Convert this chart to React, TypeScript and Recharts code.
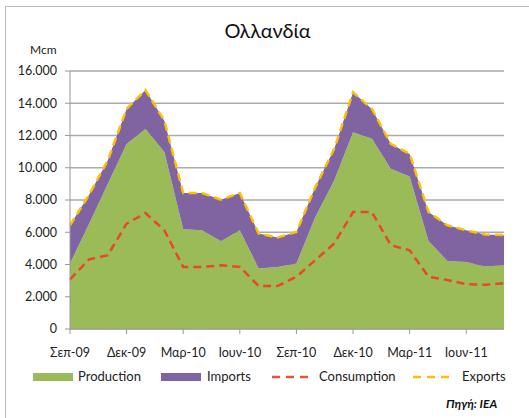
import { ComposedChart, Area, Line, XAxis, YAxis, CartesianGrid } from 'recharts';

const months = [
  'Σεπ-09', 'Οκτ-09', 'Νοε-09', 'Δεκ-09', 'Ιαν-10', 'Φεβ-10', 'Μαρ-10', 'Απρ-10', 'Μαϊ-10', 'Ιουν-10', 'Ιουλ-10', 'Αυγ-10',
  'Σεπ-10', 'Οκτ-10', 'Νοε-10', 'Δεκ-10', 'Ιαν-11', 'Φεβ-11', 'Μαρ-11', 'Απρ-11', 'Μαϊ-11', 'Ιουν-11', 'Ιουλ-11', 'Αυγ-11',
];
const production = [4060, 6500, 9000, 11480, 12410, 10970, 6180, 6120, 5440, 6120, 3750, 3850, 4060, 6950, 9210, 12200, 11800, 9940, 9460, 5460, 4220, 4160, 3880, 3950];
const imports = [2370, 1800, 1450, 2170, 2410, 1950, 2250, 2310, 2580, 2310, 2170, 1820, 1960, 1850, 1960, 2480, 1850, 1540, 1400, 1800, 2210, 1960, 1980, 1870];
const consumption = [3070, 4310, 4580, 6530, 7190, 6120, 3850, 3850, 3950, 3850, 2660, 2660, 3240, 4270, 5300, 7250, 7250, 5200, 4880, 3240, 3040, 2780, 2740, 2840];
const exports = [6430, 8300, 10450, 13650, 14820, 12920, 8430, 8430, 8020, 8430, 5920, 5670, 6020, 8800, 11170, 14680, 13650, 11480, 10860, 7260, 6430, 6120, 5860, 5820];
const yTicks = [0, 2000, 4000, 6000, 8000, 10000, 12000, 14000, 16000];

const data = months.map((m, i) => ({
  month: m,
  Production: production[i],
  Imports: imports[i],
  Consumption: consumption[i],
  Exports: exports[i],
}));

const FONT = 'Lato, "Liberation Sans", sans-serif';

const legendItems = [
  { name: 'Production', color: '#9BBB59', type: 'box', x: 33, tx: 78 },
  { name: 'Imports', color: '#8064A2', type: 'box', x: 161, tx: 207 },
  { name: 'Consumption', color: '#F0503A', type: 'dash', x: 272, tx: 319 },
  { name: 'Exports', color: '#FFC000', type: 'dash', x: 413, tx: 462 },
];

function ChartLegend() {
  return (
    <div style={{ position: 'absolute', left: 0, top: 368, width: 529, height: 20, fontFamily: FONT, fontSize: 13, color: '#222' }}>
      {legendItems.map((it) => (
        <div key={it.name}>
          {it.type === 'box' ? (
            <div style={{ position: 'absolute', left: it.x, top: 5, width: 40, height: 8, background: it.color }} />
          ) : (
            <svg style={{ position: 'absolute', left: it.x, top: 4 }} width={40} height={10}>
              <line x1={0} y1={5} x2={40} y2={5} stroke={it.color} strokeWidth={2.5} strokeDasharray="8 6" />
            </svg>
          )}
          <span style={{ position: 'absolute', left: it.tx, top: 0, whiteSpace: 'nowrap' }}>{it.name}</span>
        </div>
      ))}
    </div>
  );
}

export default function App() {
  return (
    <div style={{ position: 'absolute', left: 0, top: 0, width: 529, height: 418, background: '#fff', overflow: 'hidden' }}>
      <div style={{ position: 'absolute', left: 5, top: 6, width: 540, height: 430, borderLeft: '1px solid #BBBBBB', borderTop: '1px solid #BBBBBB' }} />
      <div style={{ position: 'absolute', left: 0, top: 18, width: 535, textAlign: 'center', fontFamily: FONT, fontSize: 20, color: '#111' }}>
        Ολλανδία
      </div>
      <div style={{ position: 'absolute', left: 30, top: 42, fontFamily: FONT, fontSize: 12, color: '#222' }}>Mcm</div>
      <div style={{ position: 'absolute', left: 446, top: 396, fontFamily: FONT, fontSize: 12, fontWeight: 'bold', fontStyle: 'italic', color: '#111' }}>
        Πηγή: IEA
      </div>
      <div style={{ position: 'absolute', left: 0, top: 0 }}>
        <ComposedChart width={529} height={418} data={data} margin={{ top: 71, right: 25, left: 10, bottom: 59 }}>
          <CartesianGrid vertical={false} stroke="#ABABAB" strokeWidth={1.5} />
          <XAxis
            dataKey="month"
            scale="point"
            interval={2}
            axisLine={{ stroke: '#999' }}
            tickLine={{ stroke: '#999' }}
            tickSize={5}
            tickMargin={14}
            tick={{ fill: '#222', fontSize: 12.5, fontFamily: FONT }}
          />
          <YAxis
            domain={[0, 16000]}
            ticks={yTicks}
            width={60}
            axisLine={{ stroke: '#999' }}
            tickLine={{ stroke: '#999' }}
            tickSize={5}
            tickMargin={8}
            tick={{ fill: '#222', fontSize: 12.5, fontFamily: FONT }}
            tickFormatter={(v: number) => v.toLocaleString('de-DE')}
          />
          <Area type="linear" dataKey="Production" stackId="1" stroke="none" fill="#9BBB59" fillOpacity={1} isAnimationActive={false} />
          <Area type="linear" dataKey="Imports" stackId="1" stroke="none" fill="#8064A2" fillOpacity={1} isAnimationActive={false} />
          <Line type="linear" dataKey="Consumption" stroke="#E8482A" strokeWidth={2.5} strokeDasharray="8 5" dot={false} isAnimationActive={false} />
          <Line type="linear" dataKey="Exports" stroke="#FFC000" strokeWidth={2.5} strokeDasharray="8 5" dot={false} isAnimationActive={false} />
        </ComposedChart>
      </div>
      <ChartLegend />
    </div>
  );
}
